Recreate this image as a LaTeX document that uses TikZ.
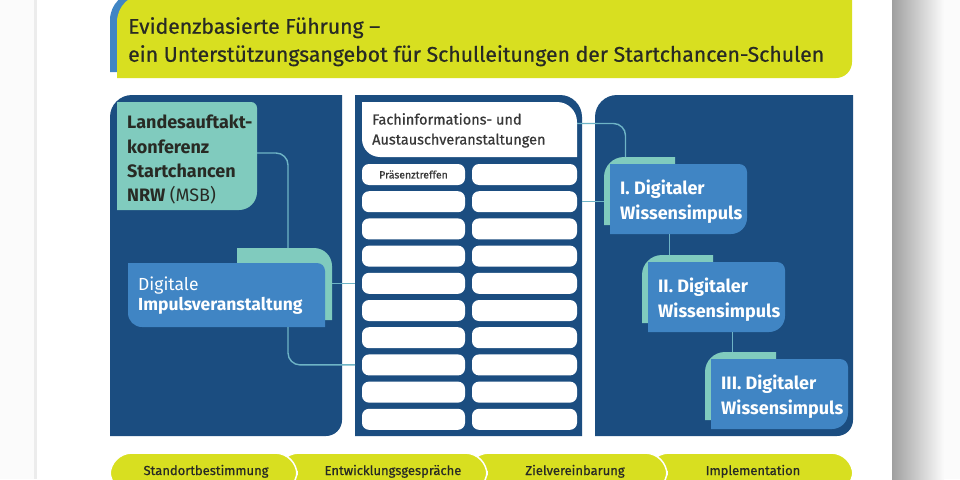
\documentclass[tikz,border=0pt]{standalone}
\usepackage{fontspec}
\setmainfont{Fira Sans}
\newfontfamily\kraeftig[FakeBold = 0.6]{Fira Sans}
\usetikzlibrary{positioning}

\definecolor{nrwdunkel}{RGB}{27,77,128}
\definecolor{nrwblau}{RGB}{64,133,196}
\definecolor{nrwtuerkis}{RGB}{128,203,190}
\definecolor{nrwgelb}{RGB}{216,223,32}
\definecolor{nrwlinie}{RGB}{110,180,198}
\definecolor{nrwschrift}{RGB}{40,42,36}
\definecolor{nrwgrau}{RGB}{55,55,55}

\begin{document}
\begin{tikzpicture}[x = 1pt, y = -1pt,
                    slot/.style      = {rectangle, anchor = north west, inner sep = 0pt, outer sep = 0pt},
                    textblock/.style = {anchor = north west, inner sep = 0pt, align = left},
                    impuls/.style    = {textblock, text = white, font = \bfseries\fontsize{18}{25}\selectfont},
                    feld/.style      = {slot, fill = white, rounded corners = 7pt, minimum height = 21pt},
                    phase/.style     = {slot, minimum height = 40pt, fill = nrwgelb, draw = white, line width = 1.5pt, rounded corners = 22pt},
                    etappe/.style    = {anchor = base, text = nrwschrift, font = \kraeftig\fontsize{13}{15}\selectfont},
                    link/.style      = {draw = nrwlinie, line width = 1.4pt, rounded corners = 12pt}
                    ]
    \useasboundingbox (0, 0) rectangle (960, 479);

    % Seite mit Schatten
    \fill[gray!3] (0, 0) rectangle (960, 479);
    \fill[white] (37, 0) rectangle (892, 479);
    \fill[gray!15] (34, 0) rectangle (37, 479);
    \shade[left color = gray!75, right color = gray!3] (892, 0) rectangle (944, 479);

    % Kopf
    \node[slot, minimum width = 190pt, minimum height = 80pt] (kopfband) at (110, -8) {};
    \node[slot, minimum width = 735pt, minimum height = 84pt] (kopf) at (117, -6) {};
    \fill[nrwblau] (kopfband.west) [rounded corners = 28pt] -- (kopfband.north west) [sharp corners] -- (kopfband.north east) -- (kopfband.south east) -- (kopfband.south west) -- cycle;
    \fill[nrwgelb] (kopf.west) [rounded corners = 28pt] -- (kopf.north west) [sharp corners] -- (kopf.north east) [rounded corners = 16pt] -- (kopf.south east) [sharp corners] -- (kopf.south west) -- cycle;
    \node[textblock, text = nrwschrift, font = \kraeftig\fontsize{21.2}{28}\selectfont] (titel) at (128, 17)
        {Evidenzbasierte Führung –\\ein Unterstützungsangebot für Schulleitungen der Startchancen-Schulen};

    % Spalten
    \node[slot, minimum width = 232pt, minimum height = 341pt] (lp) at (110, 95) {};
    \node[slot, minimum width = 227pt, minimum height = 341pt] (mp) at (355, 95) {};
    \node[slot, minimum width = 258pt, minimum height = 341pt] (rp) at (595, 95) {};
    \fill[nrwdunkel] (lp.west) [rounded corners = 22pt] -- (lp.north west) [sharp corners] -- (lp.north east) [rounded corners = 16pt] -- (lp.south east) [sharp corners] -- (lp.south west) -- cycle;
    \fill[nrwdunkel] (mp.west) -- (mp.north west) [rounded corners = 22pt] -- (mp.north east) [sharp corners] -- (mp.south east) -- (mp.south west) -- cycle;
    \fill[nrwdunkel] (rp.west) [rounded corners = 22pt] -- (rp.north west) [sharp corners] -- (rp.north east) [rounded corners = 16pt] -- (rp.south east) [sharp corners] -- (rp.south west) -- cycle;

    % links
    \node[slot, minimum width = 140pt, minimum height = 108pt] (lak) at (117, 102) {};
    \fill[nrwtuerkis] (lak.west) -- (lak.north west) [rounded corners = 6pt] -- (lak.north east) [rounded corners = 18pt] -- (lak.south east) [sharp corners] -- (lak.south west) -- cycle;
    \node[textblock, text = nrwschrift, font = \bfseries\fontsize{18}{24.3}\selectfont] (laktext) at (127, 115)
        {Landesauftakt-\\konferenz\\Startchancen\\NRW {\mdseries(MSB)}};

    \node[slot, minimum width = 95pt, minimum height = 72pt] (digakz) at (237, 248) {};
    \node[slot, minimum width = 197pt, minimum height = 64pt] (dig) at (128, 263) {};
    \fill[nrwtuerkis] (digakz.west) -- (digakz.north west) [rounded corners = 18pt] -- (digakz.north east) [sharp corners] -- (digakz.south east) -- (digakz.south west) -- cycle;
    \fill[nrwblau] (dig.west) -- (dig.north west) [rounded corners = 8pt] -- (dig.north east) [sharp corners] -- (dig.south east) [rounded corners = 14pt] -- (dig.south west) [sharp corners] -- cycle;
    \node[textblock, text = white, font = \fontsize{17.5}{20}\selectfont] (digtext) at (138, 277)
        {Digitale\\\textbf{Impulsveranstaltung}};
    \coordinate[xshift = 3.5pt] (digein) at (digakz.north);

    % Mitte
    \node[slot, minimum width = 215pt, minimum height = 55pt] (fach) at (362, 102) {};
    \fill[white] (fach.west) -- (fach.north west) [rounded corners = 20pt] -- (fach.north east) [sharp corners] -- (fach.south east) [rounded corners = 18pt] -- (fach.south west) [sharp corners] -- cycle;
    \node[textblock, text = nrwgrau, font = \kraeftig\fontsize{14.5}{20}\selectfont] (fachtext) at (372, 113)
        {Fachinformations- und\\Austauschveranstaltungen};
    \foreach \i in {0,...,9}
    {
        \node[feld, minimum width = 103pt] (l\i) at (362, {164 + 27.2 * \i}) {};
        \node[feld, minimum width = 105pt] (r\i) at (472, {164 + 27.2 * \i}) {};
    }
    \node[text = nrwgrau, font = \kraeftig\fontsize{10.5}{12}\selectfont] (praesenz) at (l0) {Präsenztreffen};

    % rechts
    \foreach \n/\x/\y/\nr/\s in {1/610/164/I./-14, 2/648/262/II./-8, 3/711/359/III./-8}
    {
        \node[slot, minimum width = 71pt, minimum height = 68pt] (wi\n akz) at (\x - 6, \y - 7) {};
        \node[slot, minimum width = 137pt, minimum height = 70pt] (wi\n) at (\x, \y) {};
        \fill[nrwtuerkis] (wi\n akz.west) [rounded corners = 20pt] -- (wi\n akz.north west) [sharp corners] -- (wi\n akz.north east) -- (wi\n akz.south east) -- (wi\n akz.south west) -- cycle;
        \fill[nrwblau] (wi\n.west) -- (wi\n.north west) [rounded corners = 8pt] -- (wi\n.north east) [rounded corners = 16pt] -- (wi\n.south east) [sharp corners] -- (wi\n.south west) -- cycle;
        \node[impuls] (wi\n text) at (\x + 10, \y + 16) {\nr{} Digitaler\\Wissensimpuls};
        \coordinate[xshift = \s pt] (wi\n ein) at (wi\n akz.north);
    }

    % Verbindungen
    \draw[link] ([yshift = 3pt]lak.east) -| (digein);
    \draw[link] (digakz.east |- l4.west) -- (l4.west -| mp.west);
    \draw[link] (digein |- dig.south) |- (l7.west -| mp.west);
    \draw[link] ([yshift = 6pt]fach.east) -| (wi1ein);
    \draw[link] (r1.east -| mp.east) -- (r1.east -| wi1akz.west);
    \draw[link] (wi2ein |- wi1.south) -- (wi2ein);
    \draw[link] (wi3ein |- wi2.south) -- (wi3ein);

    % Phasen
    \foreach \n/\xa/\xb in {4/647/853, 3/467/667, 2/277/487, 1/110/297}
        \node[phase, minimum width = {\xb - \xa}] (phase\n) at (\xa, 453) {};
    \node[etappe] (phase1text) at (206, 475) {Standortbestimmung};
    \node[etappe] (phase2text) at (393, 475) {Entwicklungsgespräche};
    \node[etappe] (phase3text) at (575, 475) {Zielvereinbarung};
    \node[etappe] (phase4text) at (753, 475) {Implementation};
\end{tikzpicture}
\end{document}
